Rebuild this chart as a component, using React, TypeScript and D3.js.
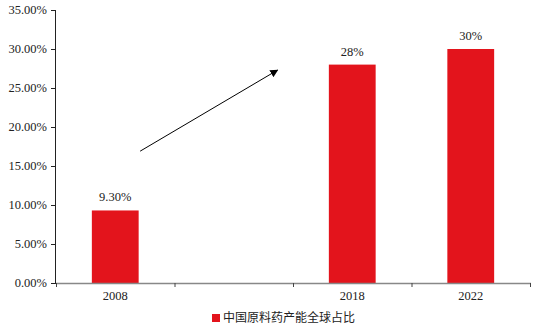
import React from "react";
import * as d3 from "d3";

const categories = ["2008", "", "2018", "2022"];
const values: (number | null)[] = [9.3, null, 28, 30];
const valueLabels = ["9.30%", "", "28%", "30%"];
const yTicks = [0, 5, 10, 15, 20, 25, 30, 35];
const seriesName = "中国原料药产能全球占比";

export default function App() {
  const W = 537, H = 327;
  const left = 56, right = 530, top = 10, bottom = 283;
  const x = d3.scaleBand<string>().domain(categories.map((c, i) => i + "")).range([left, right]).paddingInner(0).paddingOuter(0);
  const y = d3.scaleLinear().domain([0, 35]).range([bottom, top]);
  const bw = x.bandwidth();
  const barW = bw * 0.395;
  const red = "#E3141C";
  const serif = "'Times New Roman', Times, 'Liberation Serif', serif";
  const boundaries = categories.map((_, i) => x(i + "")!).concat([right]);

  // arrow annotation in data space
  const ax1 = x("0")! + bw * 0.71, ay1 = y(16.9);
  const ax2 = x("1")! + bw * 0.87, ay2 = y(27.3);

  return (
    <svg width={W} height={H} style={{ position: "absolute", left: 0, top: 0, background: "#fff" }}>
      <defs>
        <marker id="ah" viewBox="0 0 10 10" refX="9" refY="5" markerWidth="8" markerHeight="8" markerUnits="userSpaceOnUse" orient="auto">
          <path d="M0,0 L10,5 L0,10 z" fill="#000" />
        </marker>
      </defs>
      {values.map((v, i) =>
        v == null ? null : (
          <rect key={i} x={x(i + "")! + (bw - barW) / 2} y={y(v)} width={barW} height={y(0) - y(v)} fill={red} />
        )
      )}
      {values.map((v, i) =>
        v == null ? null : (
          <text key={"l" + i} x={x(i + "")! + bw / 2} y={y(v) - 9} textAnchor="middle" fontFamily={serif} fontSize={12.5} fill="#222">
            {valueLabels[i]}
          </text>
        )
      )}
      {/* y axis */}
      <line x1={left - 0.5} x2={left - 0.5} y1={top} y2={bottom} stroke="#222" />
      {yTicks.map((t) => (
        <g key={t}>
          <line x1={left - 5} x2={left} y1={y(t) + 0.5} y2={y(t) + 0.5} stroke="#222" />
          <text x={left - 9} y={y(t)} dy="0.35em" textAnchor="end" fontFamily={serif} fontSize={12.5} fill="#222">
            {t.toFixed(2)}%
          </text>
        </g>
      ))}
      {/* x axis */}
      <line x1={left} x2={right + 1} y1={bottom + 0.5} y2={bottom + 0.5} stroke="#888" strokeWidth={1.5} />
      {boundaries.map((b, i) => (
        <line key={i} x1={b + 0.5} x2={b + 0.5} y1={bottom} y2={bottom + 4} stroke="#444" />
      ))}
      {categories.map((c, i) => (
        <text key={"c" + i} x={x(i + "")! + bw / 2} y={bottom + 17} textAnchor="middle" fontFamily={serif} fontSize={12.5} fill="#222">
          {c}
        </text>
      ))}
      <line x1={ax1} y1={ay1} x2={ax2} y2={ay2} stroke="#000" strokeWidth={1} markerEnd="url(#ah)" />
      {/* legend */}
      <rect x={212} y={314} width={8} height={8} fill={red} />
      <text x={223} y={318} dy="0.35em" fontFamily="'Noto Sans CJK SC', sans-serif" fontSize={12} fill="#222">
        {seriesName}
      </text>
    </svg>
  );
}
